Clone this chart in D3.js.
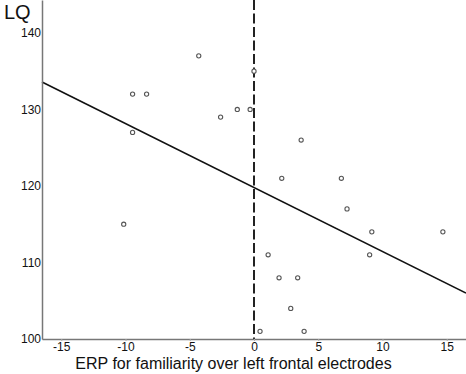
<!DOCTYPE html>
<html>
<head>
<meta charset="utf-8">
<script src="https://cdn.jsdelivr.net/npm/d3@7"></script>
<style>
  body { margin: 0; background: #fff; }
  svg { display: block; font-family: "Liberation Sans", Arial, sans-serif; }
</style>
</head>
<body>
<div id="chart"></div>
<script>
// ERP familiarity effect (x) vs LQ (y), one point per subject
const erpValues = [-9.45, -8.36, -4.3, 0, -1.3, -0.3, -2.6, -9.45, -10.14,
                   3.67, 2.16, 6.8, 7.24, 9.17, 14.7, 1.1, 9.0,
                   1.95, 3.4, 2.86, 0.47, 3.9];
const lqValues  = [132, 132, 137, 135, 130, 130, 129, 127, 115,
                   126, 121, 121, 117, 114, 114, 111, 111,
                   108, 108, 104, 101, 101];
const xTicks = [-15, -10, -5, 0, 5, 10, 15];
const yTicks = [100, 110, 120, 130, 140];

// fitted regression line: LQ = intercept + slope * ERP
const fitIntercept = 119.8;
const fitSlope = -0.836;

const data = erpValues.map((d, i) => ({erp: d, lq: lqValues[i]}));

const W = 466, H = 374;
const svg = d3.select("#chart").append("svg")
    .attr("width", W)
    .attr("height", H);

const x = d3.scaleLinear()
    .domain([-16.5, 16.5])
    .range([42, 466]);

const y = d3.scaleLinear()
    .domain([100, 144.3])
    .range([339, 0]);

// zero reference line (dashed)
svg.append("line")
    .attr("x1", x(0)).attr("x2", x(0))
    .attr("y1", y(144.3)).attr("y2", y(100))
    .attr("stroke", "#222")
    .attr("stroke-width", 2)
    .attr("stroke-dasharray", "10,3.5");

// regression line
const xd = x.domain();
svg.append("line")
    .attr("x1", x(xd[0])).attr("y1", y(fitIntercept + fitSlope * xd[0]))
    .attr("x2", x(xd[1])).attr("y2", y(fitIntercept + fitSlope * xd[1]))
    .attr("stroke", "#111")
    .attr("stroke-width", 1.6);

// points
svg.selectAll("circle")
    .data(data)
    .enter().append("circle")
      .attr("cx", d => x(d.erp))
      .attr("cy", d => y(d.lq))
      .attr("r", 2.1)
      .attr("fill", "#fff")
      .attr("stroke", "#555")
      .attr("stroke-width", 1.1);

// axes
const xAxis = svg.append("g")
    .attr("transform", `translate(0,${y(100)})`)
    .call(d3.axisBottom(x).tickValues(xTicks).tickSize(2).tickSizeOuter(0).tickPadding(1));
xAxis.select(".domain").attr("stroke", "#777").attr("stroke-width", 1.5);
xAxis.selectAll(".tick line").attr("stroke", "#aaa");
xAxis.selectAll("text")
    .attr("font-size", 12)
    .attr("fill", "#111")
    .text(d => d < 0 ? "-" + Math.abs(d) : d);

const yAxis = svg.append("g")
    .attr("transform", `translate(${x(-16.5)},0)`)
    .call(d3.axisLeft(y).tickValues(yTicks).tickSize(0).tickSizeOuter(0).tickPadding(1));
yAxis.select(".domain").attr("stroke", "#777").attr("stroke-width", 1.5);
yAxis.selectAll("text")
    .attr("font-size", 12)
    .attr("fill", "#111");

// axis titles
svg.append("text")
    .attr("x", 4)
    .attr("y", 19)
    .attr("font-size", 20)
    .attr("fill", "#111")
    .text("LQ");

svg.append("text")
    .attr("x", 233.5)
    .attr("y", 369)
    .attr("text-anchor", "middle")
    .attr("font-size", 16)
    .attr("fill", "#111")
    .text("ERP for familiarity over left frontal electrodes");
</script>
</body>
</html>
